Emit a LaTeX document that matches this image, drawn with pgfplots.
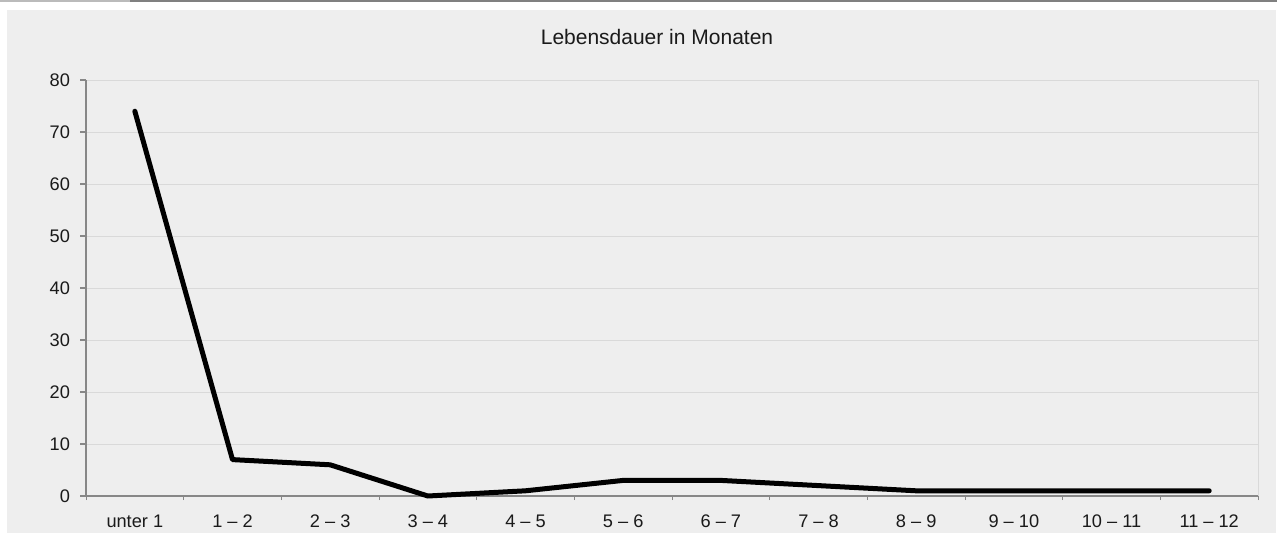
\documentclass[border=0pt]{standalone}
\usepackage{fontspec}
\setmainfont{Liberation Sans}
\usepackage{pgfplots}
\pgfplotsset{compat=1.18}
\definecolor{panel}{HTML}{EEEEEE}
\definecolor{axgray}{HTML}{878787}
\definecolor{gridgray}{HTML}{D9D9D9}
\definecolor{toplight}{HTML}{BBBBBB}
\definecolor{topdark}{HTML}{808080}
\definecolor{txt}{HTML}{1A1A1A}
\begin{document}
\begin{tikzpicture}[x=1pt,y=1pt]
\fill[white] (0,0) rectangle (638.5,266.5);
\fill[panel] (3.5,0) rectangle (638,261.5);
\fill[toplight] (0,265.5) rectangle (65,266.5);
\fill[topdark] (65,265.5) rectangle (638.5,266.5);
\begin{axis}[
  scale only axis, width=586pt, height=208pt,
  at={(43pt,18.5pt)}, anchor=south west,
  xmin=-0.5, xmax=11.5, ymin=0, ymax=80,
  ytick={0,10,...,80},
  xtick={0,...,11},
  xticklabels={unter 1, 1 – 2, 2 – 3, 3 – 4, 4 – 5, 5 – 6, 6 – 7, 7 – 8, 8 – 9, 9 – 10, 10 – 11, 11 – 12},
  minor xtick={-0.5,0.5,...,11.5},
  major x tick style={draw=none},
  minor x tick style={axgray, line width=0.5pt},
  major y tick style={axgray, line width=0.75pt},
  major tick length=3pt, minor tick length=2pt,
  tick align=outside,
  ymajorgrids, grid style={gridgray, line width=0.5pt},
  axis x line*=bottom, axis y line*=left,
  axis line style={axgray, line width=0.75pt, -},
  tick label style={font=\fontsize{9.1}{10}\selectfont, text=txt},
  /pgf/number format/assume math mode=true,
  yticklabel style={xshift=-1.5pt},
  xticklabel style={yshift=-3pt},
  title={Lebensdauer in Monaten},
  title style={at={(0.5,1)}, anchor=base, yshift=11.7pt, xshift=-7.5pt, font=\fontsize{10.5}{12}\selectfont, text=txt},
  clip=false,
]
\draw[gridgray, line width=0.5pt] (rel axis cs:1,0) -- (rel axis cs:1,1);
\addplot[black, line width=2.5pt, line join=round, line cap=round] coordinates {
(0,74) (1,7) (2,6) (3,0) (4,1) (5,3) (6,3) (7,2) (8,1) (9,1) (10,1) (11,1)
};
\end{axis}
\end{tikzpicture}
\end{document}
